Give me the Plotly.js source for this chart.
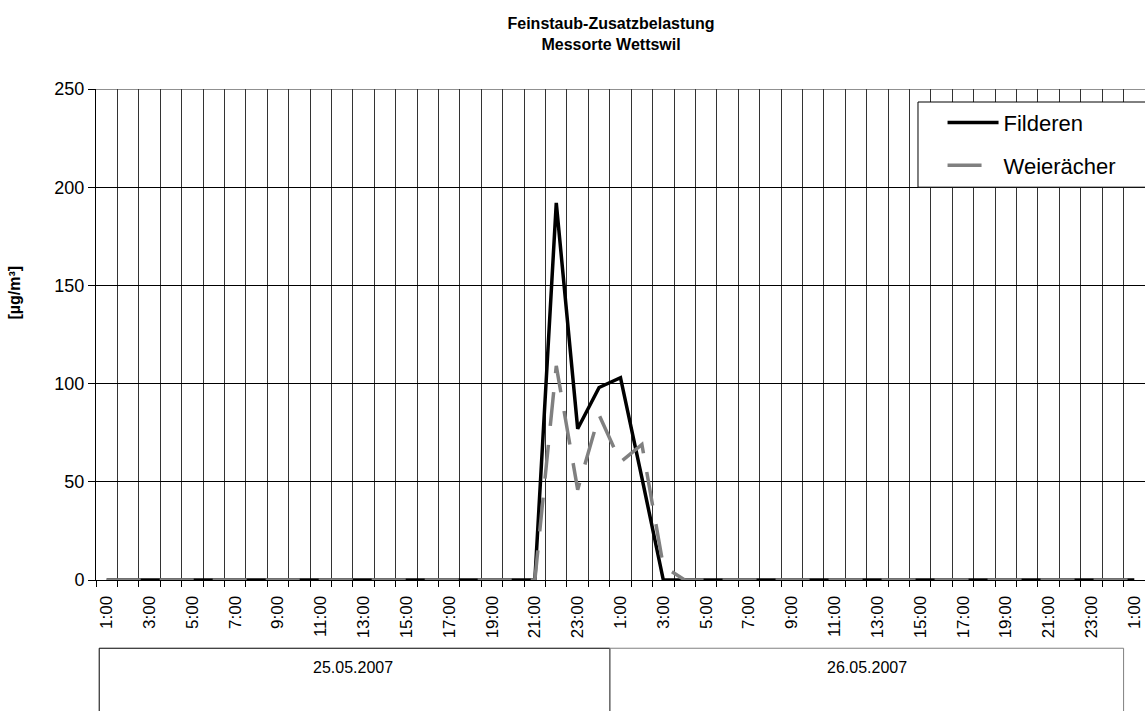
<!DOCTYPE html>
<html>
<head>
<meta charset="utf-8">
<script src="https://cdn.plot.ly/plotly-3.0.1.min.js"></script>
<style>
  html, body { margin: 0; padding: 0; background: #fff; }
  #chart { width: 1145px; height: 711px; }
</style>
</head>
<body>
<div id="chart"></div>
<script>
// Hourly categories: 25.05.2007 1:00 ... 27.05.2007 1:00
const hours = [
  "1:00","2:00","3:00","4:00","5:00","6:00","7:00","8:00","9:00","10:00","11:00","12:00",
  "13:00","14:00","15:00","16:00","17:00","18:00","19:00","20:00","21:00","22:00","23:00",
  "0:00","1:00","2:00","3:00","4:00","5:00","6:00","7:00","8:00","9:00","10:00","11:00","12:00",
  "13:00","14:00","15:00","16:00","17:00","18:00","19:00","20:00","21:00","22:00","23:00",
  "0:00","1:00"
];
// Feinstaub-Zusatzbelastung [µg/m³]
const filderen = [
  0,0,0,0,0,0,0,0,0,0,0,0,0,0,0,0,0,0,0,0,
  0,192,77,98,103,52,0,0,0,0,0,0,0,0,0,0,0,0,0,0,
  0,0,0,0,0,0,0,0,0
];
const weieraecher = [
  0,0,0,0,0,0,0,0,0,0,0,0,0,0,0,0,0,0,0,0,
  0,109,46,84,60,69,7,0,0,0,0,0,0,0,0,0,0,0,0,0,
  0,0,0,0,0,0,0,0,0
];
const seriesNames = ["Filderen", "Weierächer"];
// Date groups: label, first category index, last category index
const dateLabels = ["25.05.2007", "26.05.2007"];
const dateStart = [0, 24];
const dateEnd = [23, 47];
const yTicks = [0, 50, 100, 150, 200, 250];

const idx = hours.map((_, i) => i);
const tickIdx = idx.filter(i => i % 2 === 0);
const tickText = tickIdx.map(i => hours[i]);

const FONT = "Arial, 'Liberation Sans', sans-serif";

const traces = [
  {
    x: idx, y: filderen, name: seriesNames[0], type: "scatter", mode: "lines",
    line: { color: "#000000", width: 3.5 }, legendgroup: "a"
  },
  {
    x: idx, y: weieraecher, name: seriesNames[1], type: "scatter", mode: "lines",
    line: { color: "#808080", width: 3.5, dash: "34px,19px" }, legendgroup: "b"
  }
];

const shapes = [];
const annotations = [];
const lineColors = ["#000000", "#808080"];
dateLabels.forEach((lab, k) => {
  shapes.push({
    type: "rect", xref: "x", yref: "paper",
    x0: k === 0 ? dateStart[k] - 0.35 : dateStart[k] - 0.5,
    x1: dateEnd[k] + 0.5,
    y0: -0.139, y1: -0.40,
    line: { color: lineColors[k], width: 1 }, fillcolor: "rgba(0,0,0,0)", layer: "above"
  });
  annotations.push({
    xref: "x", yref: "paper",
    x: (dateStart[k] + dateEnd[k]) / 2, y: -0.178,
    text: lab, showarrow: false, xanchor: "center", yanchor: "middle",
    font: { family: FONT, size: 16, color: "#000" }
  });
});
// legend frame (extends past the right edge like the original)
shapes.push({
  type: "rect", xref: "paper", yref: "paper",
  x0: 0.7836, x1: 1.05, y0: 0.800, y1: 0.9735,
  line: { color: "#000", width: 1 }, fillcolor: "#ffffff", layer: "above"
});
// top gridline drawn lighter as in the original
shapes.push({
  type: "line", xref: "paper", yref: "y",
  x0: 0, x1: 1, y0: yTicks[yTicks.length - 1], y1: yTicks[yTicks.length - 1],
  line: { color: "#909090", width: 2 }, layer: "between"
});
annotations.push({
  xref: "paper", yref: "paper", x: -0.0775, y: 0.585,
  text: "[µg/m³]", showarrow: false, textangle: -90,
  xanchor: "center", yanchor: "middle",
  font: { family: FONT, size: 16, color: "#000", weight: "bold" }
});

const layout = {
  width: 1145, height: 711,
  paper_bgcolor: "#ffffff", plot_bgcolor: "#ffffff",
  margin: { l: 96, r: 0, t: 89, b: 131, pad: 0 },
  font: { family: FONT, color: "#000" },
  title: {
    text: "<b>Feinstaub-Zusatzbelastung<br>Messorte Wettswil</b>",
    font: { family: FONT, size: 16, color: "#000" },
    xref: "paper", x: 0.491, xanchor: "center",
    yref: "container", y: 0.959, yanchor: "top"
  },
  xaxis: {
    range: [-0.5, 48.5], fixedrange: true,
    tickmode: "array", tickvals: tickIdx, ticktext: tickText,
    tickangle: -90, ticks: "", showgrid: false, zeroline: false,
    showline: true, linecolor: "#000", linewidth: 1,
    ticklabelstandoff: 8,
    tickfont: { family: FONT, size: 17, color: "#000" },
    minor: {
      tick0: -0.5, dtick: 1, showgrid: true, gridcolor: "#333333", gridwidth: 1,
      ticks: "outside", ticklen: 6, tickcolor: "#000"
    }
  },
  yaxis: {
    range: [0, 250], tickvals: yTicks, fixedrange: true,
    ticks: "outside", ticklen: 7, tickcolor: "#000",
    showgrid: true, gridcolor: "#000", gridwidth: 1, zeroline: false,
    showline: true, linecolor: "#000", linewidth: 1,
    tickfont: { family: FONT, size: 18, color: "#000" }
  },
  showlegend: true,
  legend: {
    x: 0.807, xanchor: "left", y: 0.974, yanchor: "top",
    bgcolor: "rgba(0,0,0,0)", borderwidth: 0,
    font: { family: FONT, size: 22, color: "#000" },
    itemwidth: 51,
    traceorder: "grouped", tracegroupgap: 11
  },
  shapes: shapes,
  annotations: annotations
};

Plotly.newPlot("chart", traces, layout, { displayModeBar: false, staticPlot: true });
</script>
</body>
</html>
